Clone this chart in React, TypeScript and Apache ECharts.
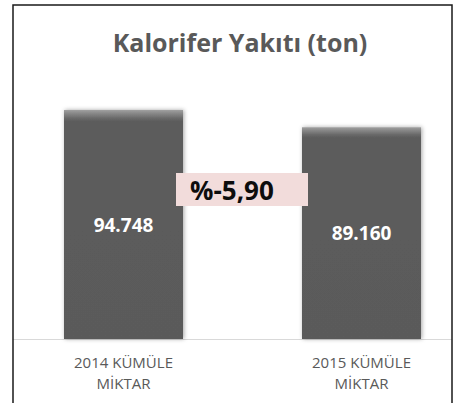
import React, { useEffect, useRef } from "react";
import * as echarts from "echarts";

const titleText = "Kalorifer Yakıtı (ton)";
const categories = ["2014 KÜMÜLE\nMİKTAR", "2015 KÜMÜLE\nMİKTAR"];
const values = [94748, 89160];
const valueLabels = ["94.748", "89.160"];
const changeLabel = "%-5,90";

export default function App() {
  const ref = useRef<HTMLDivElement>(null);
  useEffect(() => {
    if (!ref.current) return;
    const chart = echarts.init(ref.current, undefined, { renderer: "svg" });
    const font = "'Open Sans', 'Noto Sans', sans-serif";
    chart.setOption({
      animation: false,
      backgroundColor: "#ffffff",
      grid: { left: 4.5, width: 476, top: 94, height: 245, outerBoundsMode: "none" },
      xAxis: {
        type: "category",
        data: categories,
        axisLine: { show: false },
        axisTick: { show: false },
        axisLabel: {
          color: "#595959",
          fontFamily: font,
          fontSize: 15,
          lineHeight: 21,
          margin: 12,
          interval: 0,
        },
      },
      yAxis: {
        type: "value",
        min: 20000,
        max: 100000,
        show: false,
        splitLine: { show: false },
      },
      series: [
        {
          type: "bar",
          data: values,
          barWidth: 119,
          itemStyle: {
            color: {
              type: "linear",
              x: 0,
              y: 0,
              x2: 0,
              y2: 1,
              colorStops: [
                { offset: 0, color: "#a0a0a0" },
                { offset: 0.012, color: "#8c8c8c" },
                { offset: 0.035, color: "#6a6a6a" },
                { offset: 0.05, color: "#5c5c5c" },
                { offset: 1, color: "#5a5a5a" },
              ],
            },
            shadowBlur: 4,
            shadowColor: "rgba(0,0,0,0.35)",
            shadowOffsetX: 1,
            shadowOffsetY: 0,
          },
          label: {
            show: true,
            position: "inside",
            color: "#ffffff",
            fontFamily: font,
            fontWeight: "bold",
            fontSize: 19,
            formatter: (p: any) => valueLabels[p.dataIndex],
          },
        },
      ],
      graphic: [
        {
          type: "rect",
          shape: { x: 13, y: 5, width: 439, height: 430 },
          style: { fill: "none", stroke: "#1a1a1a", lineWidth: 1.5 },
          z: 10,
        },
        {
          type: "line",
          shape: { x1: 13, y1: 339.5, x2: 452, y2: 339.5 },
          style: { stroke: "#d9d9d9", lineWidth: 1 },
          z: 1,
        },
        {
          type: "text",
          x: 240,
          y: 42,
          style: {
            text: titleText,
            fill: "#595959",
            font: `bold 25px ${font}`,
            align: "center",
            verticalAlign: "middle",
          },
        },
        {
          type: "rect",
          shape: { x: 176, y: 173, width: 132, height: 33 },
          style: { fill: "#F2DCDB" },
          z: 20,
        },
        {
          type: "text",
          x: 190,
          y: 190,
          z: 21,
          style: {
            text: changeLabel,
            fill: "#0d0d0d",
            font: `bold 26px ${font}`,
            align: "left",
            verticalAlign: "middle",
          },
        },
      ],
    });
    return () => chart.dispose();
  }, []);
  return (
    <div
      ref={ref}
      style={{ position: "absolute", left: 0, top: 0, width: 472, height: 403 }}
    />
  );
}
